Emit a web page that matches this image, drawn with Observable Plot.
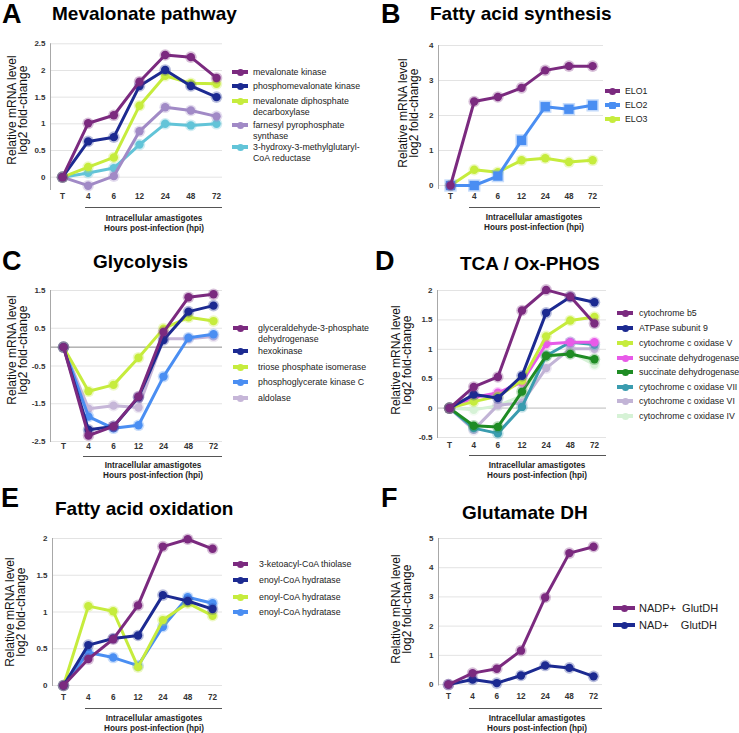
<!DOCTYPE html>
<html><head><meta charset="utf-8">
<script src="https://cdn.jsdelivr.net/npm/d3@7"></script>
<script src="https://cdn.jsdelivr.net/npm/@observablehq/plot@0.6"></script>
<style>
body{margin:0;background:#fff;font-family:"Liberation Sans",Arial,sans-serif;}
#root{position:relative;width:739px;height:733px;overflow:hidden;background:#fff;}
.abs{position:absolute;white-space:nowrap;}
.letter{font-weight:bold;font-size:27px;line-height:27px;color:#000;}
.ptitle{font-weight:bold;font-size:19px;line-height:20px;color:#000;}
.ylab{font-size:12px;line-height:11px;color:#111;text-align:center;transform:translate(-50%,-50%) rotate(-90deg);}
.xlab{font-size:8.2px;font-weight:bold;line-height:9.8px;color:#222;text-align:center;transform:translateX(-50%);}
.uline{height:0;border-top:1px solid #555;}
.leg{font-size:8.8px;line-height:11px;color:#222;white-space:pre;}
</style></head><body><div id="root"></div><script>
// ---------- data ----------
const hours = ["T","4","6","12","24","48","72"];

const mevSeries = ["mevalonate kinase","phosphomevalonate kinase","mevalonate diphosphate\ndecarboxylase","farnesyl pyrophosphate\nsynthase","3-hydroxy-3-methylglutaryl-\nCoA reductase"];
const mevValues = [
  [0,1.01,1.16,1.79,2.29,2.25,1.86],
  [0,0.67,0.75,1.71,2.01,1.71,1.50],
  [0,0.19,0.37,1.34,1.90,1.76,1.75],
  [0,-0.16,0.02,0.86,1.31,1.25,1.14],
  [0,0.08,0.17,0.61,1.00,0.97,1.00]
];
const mevColors = ["#7b2a7f","#1c2a91","#c6ec3d","#a18ac6","#62c4d8"];

const faSynSeries = ["ELO1","ELO2","ELO3"];
const faSynValues = [
  [0,2.40,2.53,2.79,3.29,3.41,3.41],
  [0,0.00,0.27,1.29,2.25,2.18,2.29],
  [0,0.45,0.38,0.72,0.78,0.67,0.72]
];
const faSynColors = ["#7b2a7f","#4a8ef2","#c6ec3d"];

const glySeries = ["glyceraldehyde-3-phosphate\ndehydrogenase","hexokinase","triose phosphate isomerase","phosphoglycerate kinase C","aldolase"];
const glyValues = [
  [0,-2.34,-2.10,-1.31,0.40,1.32,1.40],
  [0,-2.19,-2.10,-1.33,0.19,0.94,1.10],
  [0,-1.17,-1.00,-0.28,0.49,0.79,0.69],
  [0,-1.84,-2.15,-2.07,-0.78,0.25,0.34],
  [0,-1.63,-1.55,-1.60,0.22,0.22,0.28]
];
const glyColors = ["#7b2a7f","#1c2a91","#c6ec3d","#4a8ef2","#c6b6d8"];

const tcaSeries = ["cytochrome b5","ATPase subunit 9","cytochrome c oxidase V","succinate dehydrogenase","succinate dehydrogenase","cytochrome c oxidase VII","cytochrome c oxidase VI","cytochrome c oxidase IV"];
const tcaValues = [
  [0,0.36,0.53,1.66,2.01,1.90,1.44],
  [0,0.23,0.17,0.55,1.62,1.89,1.80],
  [0,0.11,0.20,0.47,1.22,1.49,1.55],
  [0,0.18,0.26,0.44,1.09,1.12,1.12],
  [0,-0.30,-0.32,0.28,0.89,0.92,0.83],
  [0,-0.34,-0.43,0.02,0.89,1.12,1.08],
  [0,-0.37,0.05,0.09,0.68,1.01,1.01],
  [0,-0.03,0.04,0.21,0.86,0.95,0.74]
];
const tcaColors = ["#7b2a7f","#1c2a91","#c6ec3d","#e85ae8","#1f8c24","#3a9caf","#c2b4d6","#d6f2d6"];

const faoSeries = ["3-ketoacyl-CoA thiolase","enoyl-CoA hydratase","enoyl-CoA hydratase","enoyl-CoA hydratase"];
const faoValues = [
  [0,0.36,0.63,1.09,1.89,1.99,1.86],
  [0,0.55,0.64,0.68,1.23,1.15,1.04],
  [0,1.08,1.01,0.25,0.89,1.12,0.95],
  [0,0.45,0.38,0.27,0.80,1.20,1.12]
];
const faoColors = ["#7b2a7f","#1c2a91","#c6ec3d","#4a8ef2"];

const gdhSeries = ["NADP+  GlutDH","NAD+    GlutDH"];
const gdhValues = [
  [0,0.39,0.54,1.16,2.98,4.50,4.72],
  [0,0.17,0.05,0.31,0.65,0.57,0.28]
];
const gdhColors = ["#7b2a7f","#1c2a91"];

const yTicksA = [0,0.5,1,1.5,2,2.5];
const yTicksB = [0,1,2,3,4];
const yTicksC = [1.5,0.5,-0.5,-1.5,-2.5];
const yTicksD = [-0.5,0,0.5,1,1.5,2];
const yTicksE = [0,0.5,1,1.5,2];
const yTicksF = [0,1,2,3,4,5];

// ---------- layout ----------
const root = document.getElementById("root");
function el(cls, x, y, text, extra){
  const d = document.createElement("div");
  d.className = "abs " + cls;
  d.style.left = x + "px"; d.style.top = y + "px";
  if (text != null) d.textContent = text;
  if (extra) Object.assign(d.style, extra);
  root.appendChild(d);
  return d;
}

const panels = [
  {letter:"A", title:"Mevalonate pathway", series:mevSeries, values:mevValues, colors:mevColors, ticks:yTicksA,
   ox:0, oy:0, w:370, h:245, mL:50, mR:148, mT:43.3, mB:55, xDom:[-0.467,6.233], yDom:[-0.25,2.5], xPad:3,
   letterXY:[2,1], titleXY:[52,4], ylab:[18,110], ul:[85,222,207], xl:[154,214],
   leg:{x1:232,x2:248,tx:253,ys:[72,86,101,125,147]}},
  {letter:"B", title:"Fatty acid synthesis", series:faSynSeries, values:faSynValues, colors:faSynColors, ticks:yTicksB,
   ox:370, oy:0, w:369, h:245, mL:68, mR:136, mT:45, mB:56, xDom:[-0.507,6.46], yDom:[-0.114,4], xPad:4, squares:[1],
   letterXY:[381,1], titleXY:[430,4], ylab:[409,113], ul:[469,600,207], xl:[534,213],
   leg:{x1:605,x2:620,tx:625,ys:[91,105,119]}},
  {letter:"C", title:"Glycolysis", series:glySeries, values:glyValues, colors:glyColors, ticks:yTicksC, zero:true,
   ox:0, oy:245, w:370, h:245, mL:50, mR:148, mT:45, mB:48, xDom:[-0.52,6.36], yDom:[-2.526,1.5], xPad:0.5,
   letterXY:[2,248], titleXY:[93,252], ylab:[18,350], ul:[83,222,456], xl:[153,461],
   leg:{x1:233,x2:248,tx:258,ys:[328,351,367,382,398]}},
  {letter:"D", title:"TCA / Ox-PHOS", series:tcaSeries, values:tcaValues, colors:tcaColors, ticks:yTicksD, zero:true,
   ox:370, oy:245, w:369, h:245, mL:67, mR:133, mT:45, mB:52, xDom:[-0.5,6.5], yDom:[-0.517,2], xPad:4,
   letterXY:[375,248], titleXY:[460,254], ylab:[402,360], ul:[469,606,455], xl:[537,461],
   leg:{x1:617,x2:633,tx:639,ys:[313,328,343,358,372,387,401,416]}},
  {letter:"E", title:"Fatty acid oxidation", series:faoSeries, values:faoValues, colors:faoColors, ticks:yTicksE,
   ox:0, oy:490, w:370, h:243, mL:52, mR:148, mT:48, mB:47, xDom:[-0.443,6.4], yDom:[-0.0136,2], xPad:8,
   letterXY:[1,485], titleXY:[55,499], ylab:[16,612], ul:[85,222,708], xl:[154,714],
   leg:{x1:233,x2:248,tx:259,ys:[564,580,597,612]}},
  {letter:"F", title:"Glutamate DH", series:gdhSeries, values:gdhValues, colors:gdhColors, ticks:yTicksF, bigLegend:true,
   ox:370, oy:490, w:369, h:243, mL:68, mR:137, mT:48, mB:47.5, xDom:[-0.41,6.37], yDom:[-0.05,5], xPad:7.5,
   letterXY:[381,485], titleXY:[462,503], ylab:[402,609], ul:[469,602,708], xl:[537,714],
   leg:{x1:613,x2:635,tx:639,ys:[608,625]}}
];

const fmt = v => String(v);

for (const p of panels) {
  const marks = [
    Plot.ruleY(p.ticks, {stroke:"#e3e3e3", strokeWidth:1}),
  ];
  if (p.zero) marks.push(Plot.ruleY([0], {stroke: p.letter === "C" ? "#8a8a8a" : "#c8c8c8", strokeWidth:1}));
  marks.push(Plot.ruleX([p.xDom[0]], {stroke:"#a8a8a8", strokeWidth:1}));
  marks.push(Plot.axisY({ticks:p.ticks, tickSize:0, tickPadding:5, tickFormat:fmt, label:null, fontSize:8, fontWeight:"bold", fill:"#333"}));
  marks.push(Plot.axisX({ticks:[0,1,2,3,4,5,6], tickSize:0, tickPadding:p.xPad, tickFormat:i => hours[i], label:null, fontSize:8.2, fontWeight:"bold", fill:"#333"}));
  // draw first series on top
  for (let s = p.series.length - 1; s >= 0; s--) {
    const data = p.values[s].map((v, i) => ({x:i, y:v}));
    const col = p.colors[s];
    const sq = p.squares && p.squares.includes(s);
    marks.push(Plot.line(data, {x:"x", y:"y", stroke:col, strokeWidth:3, strokeLinejoin:"round"}));
    marks.push(Plot.dot(data, {x:"x", y:"y", fill:col, fillOpacity:0.3, r: sq ? 7 : 5.8, symbol: sq ? "square" : "circle"}));
    marks.push(Plot.dot(data, {x:"x", y:"y", fill:col, r: sq ? 5.3 : 4.2, symbol: sq ? "square" : "circle"}));
  }
  const svg = Plot.plot({
    width:p.w, height:p.h,
    marginLeft:p.mL, marginRight:p.mR, marginTop:p.mT, marginBottom:p.mB,
    x:{type:"linear", domain:p.xDom, axis:null},
    y:{type:"linear", domain:p.yDom, axis:null},
    style:{fontFamily:"'Liberation Sans', Arial, sans-serif", background:"transparent", overflow:"visible"},
    marks
  });
  const wrap = document.createElement("div");
  wrap.className = "abs";
  wrap.style.left = p.ox + "px"; wrap.style.top = p.oy + "px";
  wrap.appendChild(svg);
  root.appendChild(wrap);

  // titles
  el("letter", p.letterXY[0], p.letterXY[1], p.letter);
  el("ptitle", p.titleXY[0], p.titleXY[1], p.title);
  // y label
  const yl = el("ylab", p.ylab[0], p.ylab[1], null);
  yl.innerHTML = "Relative mRNA level<br>log2 fold-change";
  // underline + x label
  el("uline", p.ul[0], p.ul[2], null, {width:(p.ul[1]-p.ul[0])+"px"});
  const xl = el("xlab", p.xl[0], p.xl[1], null);
  xl.innerHTML = "Intracellular amastigotes<br>Hours post-infection (hpi)";
  // legend
  const L = p.leg;
  p.series.forEach((name, i) => {
    const y = L.ys[i];
    const col = p.colors[i];
    el("", L.x1, y - 1.75, null, {width:(L.x2-L.x1)+"px", height:"3.5px", background:col});
    const sq = p.squares && p.squares.includes(i);
    const ds = 7;
    el("", (L.x1+L.x2)/2 - ds/2, y - ds/2, null, {width:ds+"px", height:ds+"px", background:col, borderRadius: sq ? "1px" : "50%"});
    const t = el("leg", L.tx, y - 5.5, name);
    if (p.bigLegend) { t.style.fontSize = "11px"; t.style.top = (y - 7) + "px"; t.style.lineHeight = "14px"; }
  });
}
</script></body></html>
